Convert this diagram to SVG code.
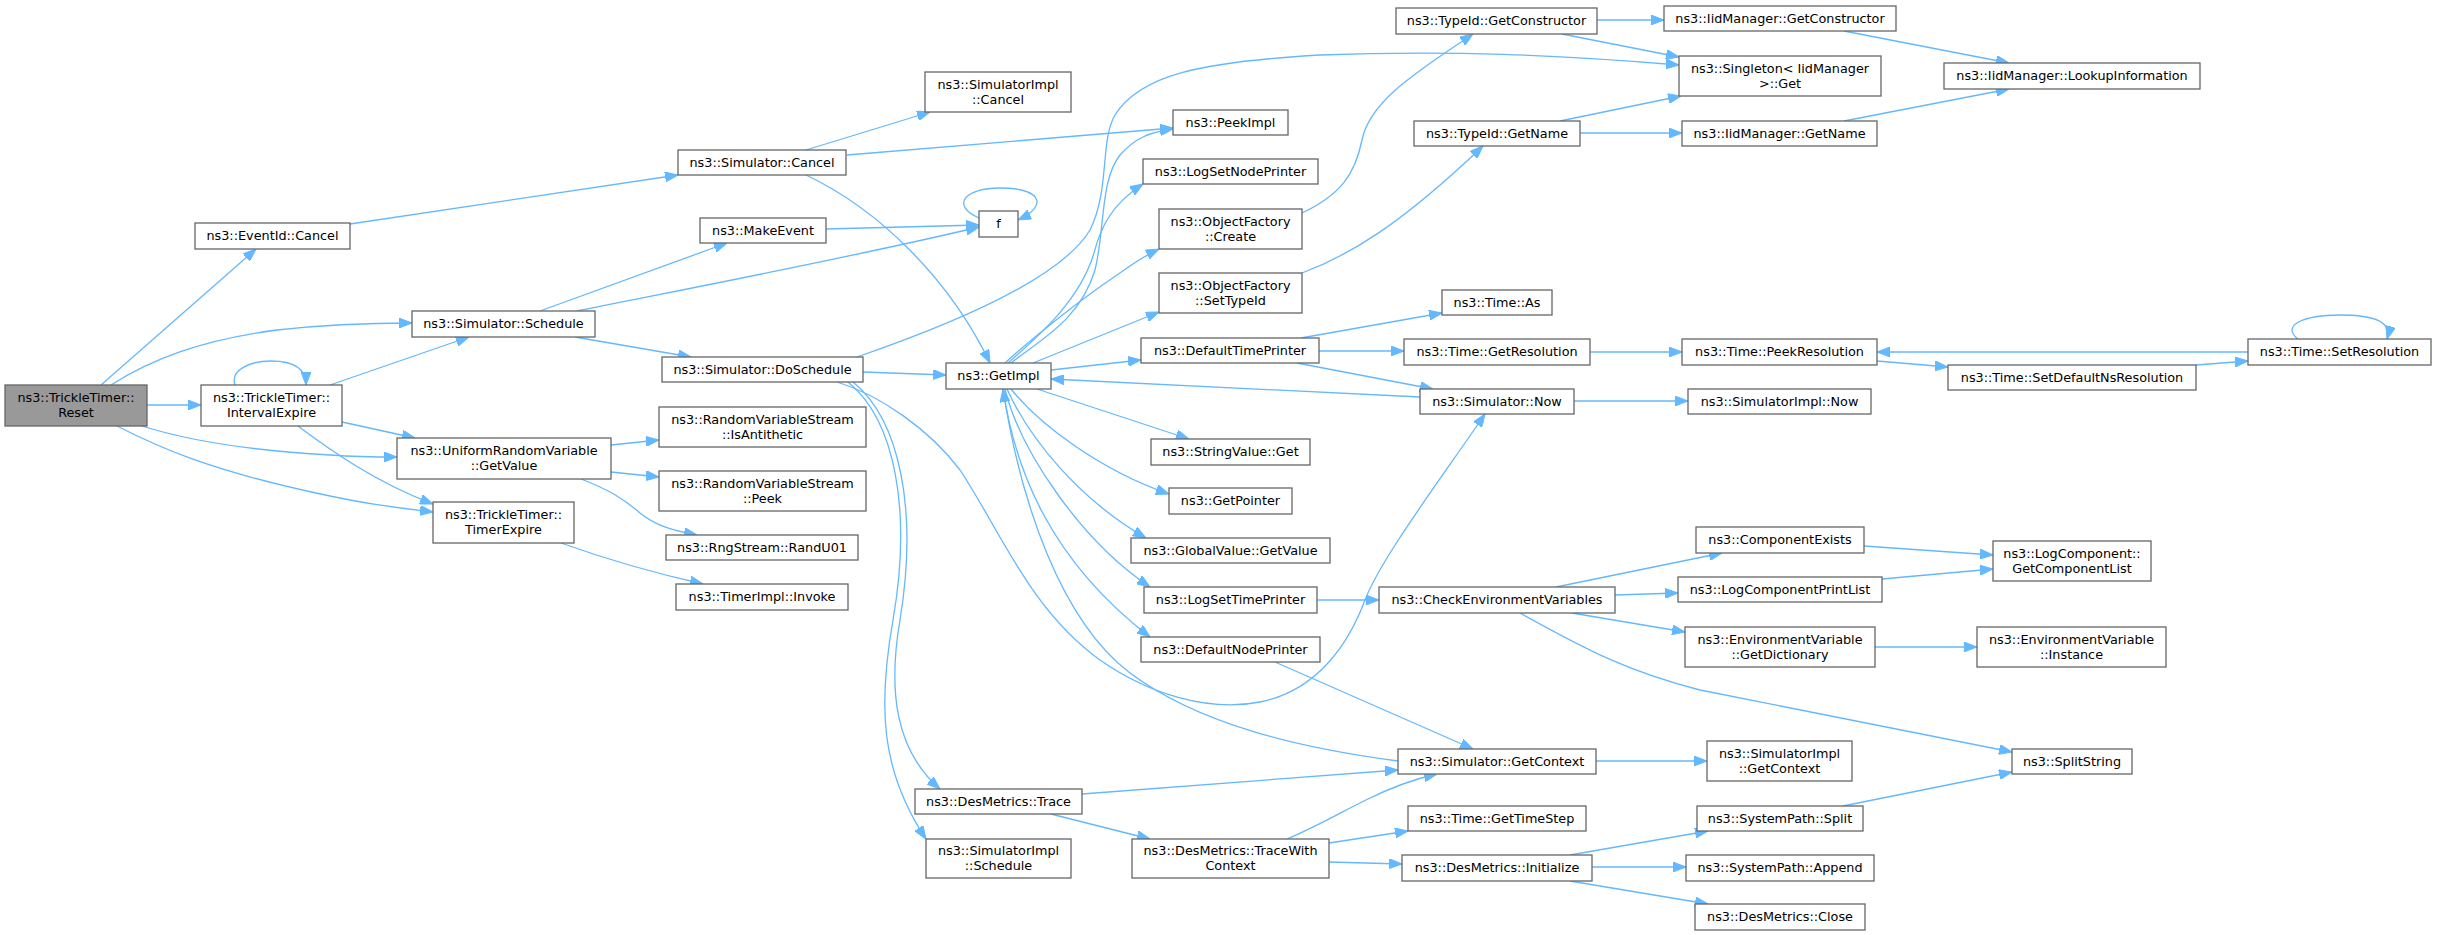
<svg xmlns="http://www.w3.org/2000/svg" width="2437" height="935" viewBox="0 0 2437 935">
<defs>
<marker id="arr" markerUnits="userSpaceOnUse" viewBox="0 0 13 10" markerWidth="13" markerHeight="10" refX="13" refY="5" orient="auto">
<path d="M0,0 L13,5 L0,10 z" fill="#63b8ff" stroke="#63b8ff" stroke-width="1"/>
</marker>
</defs>
<style>
.n rect{fill:#ffffff;stroke:#666666;stroke-width:1.3}
.n.root rect{fill:#999999}
.n text{font-family:"DejaVu Sans","Liberation Sans",sans-serif;font-size:12.8px;text-anchor:middle;fill:#000000}
#edges path{fill:none;stroke:#63b8ff;stroke-width:1.3;marker-end:url(#arr)}
</style>
<rect x="0" y="0" width="2437" height="935" fill="#ffffff"/>
<g id="edges">
<path d="M101,385 L256,249"/>
<path d="M111,385 C150,360 200,340 277,330 C330,324 370,323 412,323"/>
<path d="M147,405 L201,405"/>
<path d="M142,426 C180,438 240,450 330,455 C360,457 380,457 397,457"/>
<path d="M117,426 C160,448 210,470 316,493 C370,505 400,508 433,512"/>
<path d="M235,385 C230,370 250,361 271,361 C292,361 306,368 306,385"/>
<path d="M330,385 L469,337"/>
<path d="M342,422 L415,438"/>
<path d="M298,426 C330,450 375,482 433,504"/>
<path d="M350,224 L678,175"/>
<path d="M540,311 L727,243"/>
<path d="M577,311 C650,296 850,258 979,227"/>
<path d="M575,337 L691,357"/>
<path d="M806,150 L930,112"/>
<path d="M847,155 L1173,128"/>
<path d="M806,175 C880,210 950,280 990,363"/>
<path d="M826,229 L979,225"/>
<path d="M979,218 C950,205 965,188 1000,188 C1040,188 1050,205 1018,220"/>
<path d="M863,372 L946,375"/>
<path d="M857,357 C950,325 1060,280 1090,230 C1110,190 1100,140 1115,115 C1140,75 1200,62 1320,55 C1450,50 1560,55 1679,65"/>
<path d="M837,382 C880,395 930,430 960,470 C1000,530 1030,610 1100,660 C1150,695 1210,712 1260,702 C1320,690 1350,640 1365,600 C1380,560 1440,480 1485,414"/>
<path d="M853,382 C900,420 918,510 900,620 C888,690 895,750 940,789"/>
<path d="M848,382 C895,420 912,510 893,620 C878,705 880,770 926,839"/>
<path d="M1011,363 C1040,340 1080,320 1095,270 C1105,230 1100,180 1120,155 C1135,138 1150,132 1173,129"/>
<path d="M1008,363 C1040,335 1080,300 1094,253 C1100,230 1110,205 1143,184"/>
<path d="M1005,363 C1030,340 1080,300 1114,277 C1130,266 1140,258 1159,249"/>
<path d="M1033,363 L1159,312"/>
<path d="M1051,370 L1141,360"/>
<path d="M1420,397 L1051,379"/>
<path d="M1037,389 L1189,439"/>
<path d="M1011,389 C1040,425 1100,470 1169,494"/>
<path d="M1007,389 C1030,440 1080,500 1146,538"/>
<path d="M1005,389 C1020,450 1080,540 1150,587"/>
<path d="M1003,389 C1015,470 1050,560 1150,637"/>
<path d="M1398,761 C1300,748 1200,725 1130,673 C1060,620 1020,500 1003,389"/>
<path d="M1082,794 L1398,770"/>
<path d="M1051,814 L1150,839"/>
<path d="M1287,839 C1320,825 1345,810 1366,800 C1390,788 1410,780 1437,774"/>
<path d="M1275,662 L1473,749"/>
<path d="M1596,761 L1707,761"/>
<path d="M1329,843 L1408,831"/>
<path d="M1329,862 L1402,864"/>
<path d="M1570,855 L1708,831"/>
<path d="M1592,867 L1686,867"/>
<path d="M1570,881 L1708,904"/>
<path d="M1556,587 L1722,553"/>
<path d="M1615,595 L1678,593"/>
<path d="M1572,613 L1685,632"/>
<path d="M1520,613 C1590,652 1630,672 1700,690 L2012,752"/>
<path d="M1317,600 L1379,600"/>
<path d="M1864,546 L1993,555"/>
<path d="M1882,579 L1993,569"/>
<path d="M1875,647 L1977,647"/>
<path d="M1843,806 L2012,772"/>
<path d="M1302,213 C1340,195 1355,175 1362,140 C1370,100 1420,70 1473,34"/>
<path d="M1302,273 C1350,255 1400,225 1483,146"/>
<path d="M1597,20 L1664,20"/>
<path d="M1562,34 L1679,57"/>
<path d="M1560,121 L1681,96"/>
<path d="M1580,133 L1682,133"/>
<path d="M1844,31 L2009,63"/>
<path d="M1844,121 L2009,89"/>
<path d="M1301,338 L1442,313"/>
<path d="M1319,351 L1404,351"/>
<path d="M1297,363 L1433,389"/>
<path d="M1590,352 L1682,352"/>
<path d="M1574,401 L1688,401"/>
<path d="M1877,361 L1948,367"/>
<path d="M2196,365 L2248,361"/>
<path d="M2248,352 L1877,352"/>
<path d="M2298,339 C2280,325 2305,315 2340,315 C2375,315 2392,322 2387,339"/>
<path d="M611,445 L659,440"/>
<path d="M611,472 L659,477"/>
<path d="M581,479 C610,490 625,500 640,513 C655,525 670,530 697,535"/>
<path d="M561,543 C600,557 650,572 703,584"/>
</g>
<g id="n_reset" class="n root"><rect x="5" y="385" width="142" height="41"/><text x="76" y="402">ns3::TrickleTimer::</text><text x="76" y="417">Reset</text></g>
<g id="n_eventid_cancel" class="n"><rect x="195" y="223" width="155" height="26"/><text x="272.5" y="240">ns3::EventId::Cancel</text></g>
<g id="n_interval_expire" class="n"><rect x="201" y="385" width="141" height="41"/><text x="271.5" y="402">ns3::TrickleTimer::</text><text x="271.5" y="417">IntervalExpire</text></g>
<g id="n_sim_schedule" class="n"><rect x="412" y="311" width="183" height="26"/><text x="503.5" y="328">ns3::Simulator::Schedule</text></g>
<g id="n_urv_getvalue" class="n"><rect x="397" y="438" width="214" height="41"/><text x="504" y="455">ns3::UniformRandomVariable</text><text x="504" y="470">::GetValue</text></g>
<g id="n_timer_expire" class="n"><rect x="433" y="502" width="141" height="41"/><text x="503.5" y="519">ns3::TrickleTimer::</text><text x="503.5" y="534">TimerExpire</text></g>
<g id="n_sim_cancel" class="n"><rect x="678" y="150" width="168" height="25"/><text x="762" y="166.5">ns3::Simulator::Cancel</text></g>
<g id="n_make_event" class="n"><rect x="700" y="218" width="126" height="25"/><text x="763" y="234.5">ns3::MakeEvent</text></g>
<g id="n_do_schedule" class="n"><rect x="662" y="357" width="201" height="25"/><text x="762.5" y="373.5">ns3::Simulator::DoSchedule</text></g>
<g id="n_is_antithetic" class="n"><rect x="659" y="407" width="207" height="40"/><text x="762.5" y="423.5">ns3::RandomVariableStream</text><text x="762.5" y="438.5">::IsAntithetic</text></g>
<g id="n_rvs_peek" class="n"><rect x="659" y="471" width="207" height="40"/><text x="762.5" y="487.5">ns3::RandomVariableStream</text><text x="762.5" y="502.5">::Peek</text></g>
<g id="n_randu01" class="n"><rect x="666" y="535" width="192" height="25"/><text x="762" y="551.5">ns3::RngStream::RandU01</text></g>
<g id="n_timerimpl_invoke" class="n"><rect x="676" y="584" width="172" height="26"/><text x="762" y="601">ns3::TimerImpl::Invoke</text></g>
<g id="n_simimpl_cancel" class="n"><rect x="925" y="72" width="146" height="40"/><text x="998" y="88.5">ns3::SimulatorImpl</text><text x="998" y="103.5">::Cancel</text></g>
<g id="n_f" class="n"><rect x="979" y="211" width="39" height="26"/><text x="998.5" y="228">f</text></g>
<g id="n_getimpl" class="n"><rect x="946" y="363" width="105" height="26"/><text x="998.5" y="380">ns3::GetImpl</text></g>
<g id="n_des_trace" class="n"><rect x="915" y="789" width="167" height="25"/><text x="998.5" y="805.5">ns3::DesMetrics::Trace</text></g>
<g id="n_simimpl_schedule" class="n"><rect x="926" y="839" width="145" height="39"/><text x="998.5" y="855">ns3::SimulatorImpl</text><text x="998.5" y="870">::Schedule</text></g>
<g id="n_peekimpl" class="n"><rect x="1173" y="110" width="115" height="25"/><text x="1230.5" y="126.5">ns3::PeekImpl</text></g>
<g id="n_logsetnodeprinter" class="n"><rect x="1143" y="159" width="175" height="25"/><text x="1230.5" y="175.5">ns3::LogSetNodePrinter</text></g>
<g id="n_of_create" class="n"><rect x="1159" y="209" width="143" height="40"/><text x="1230.5" y="225.5">ns3::ObjectFactory</text><text x="1230.5" y="240.5">::Create</text></g>
<g id="n_of_settypeid" class="n"><rect x="1159" y="273" width="143" height="40"/><text x="1230.5" y="289.5">ns3::ObjectFactory</text><text x="1230.5" y="304.5">::SetTypeId</text></g>
<g id="n_defaulttimeprinter" class="n"><rect x="1141" y="338" width="178" height="25"/><text x="1230" y="354.5">ns3::DefaultTimePrinter</text></g>
<g id="n_stringvalue_get" class="n"><rect x="1151" y="439" width="159" height="26"/><text x="1230.5" y="456">ns3::StringValue::Get</text></g>
<g id="n_getpointer" class="n"><rect x="1169" y="488" width="123" height="26"/><text x="1230.5" y="505">ns3::GetPointer</text></g>
<g id="n_globalvalue_getvalue" class="n"><rect x="1131" y="538" width="199" height="25"/><text x="1230.5" y="554.5">ns3::GlobalValue::GetValue</text></g>
<g id="n_logsettimeprinter" class="n"><rect x="1144" y="587" width="173" height="26"/><text x="1230.5" y="604">ns3::LogSetTimePrinter</text></g>
<g id="n_defaultnodeprinter" class="n"><rect x="1141" y="637" width="179" height="25"/><text x="1230.5" y="653.5">ns3::DefaultNodePrinter</text></g>
<g id="n_des_tracewithcontext" class="n"><rect x="1132" y="839" width="197" height="39"/><text x="1230.5" y="855">ns3::DesMetrics::TraceWith</text><text x="1230.5" y="870">Context</text></g>
<g id="n_typeid_getconstructor" class="n"><rect x="1396" y="8" width="201" height="26"/><text x="1496.5" y="25">ns3::TypeId::GetConstructor</text></g>
<g id="n_typeid_getname" class="n"><rect x="1414" y="121" width="166" height="25"/><text x="1497" y="137.5">ns3::TypeId::GetName</text></g>
<g id="n_time_as" class="n"><rect x="1442" y="290" width="110" height="25"/><text x="1497" y="306.5">ns3::Time::As</text></g>
<g id="n_time_getresolution" class="n"><rect x="1404" y="339" width="186" height="26"/><text x="1497" y="356">ns3::Time::GetResolution</text></g>
<g id="n_sim_now" class="n"><rect x="1420" y="389" width="154" height="25"/><text x="1497" y="405.5">ns3::Simulator::Now</text></g>
<g id="n_checkenv" class="n"><rect x="1379" y="587" width="236" height="26"/><text x="1497" y="604">ns3::CheckEnvironmentVariables</text></g>
<g id="n_sim_getcontext" class="n"><rect x="1398" y="749" width="198" height="25"/><text x="1497" y="765.5">ns3::Simulator::GetContext</text></g>
<g id="n_time_gettimestep" class="n"><rect x="1408" y="806" width="178" height="25"/><text x="1497" y="822.5">ns3::Time::GetTimeStep</text></g>
<g id="n_des_initialize" class="n"><rect x="1402" y="855" width="190" height="26"/><text x="1497" y="872">ns3::DesMetrics::Initialize</text></g>
<g id="n_iid_getconstructor" class="n"><rect x="1664" y="6" width="232" height="25"/><text x="1780" y="22.5">ns3::IidManager::GetConstructor</text></g>
<g id="n_singleton_get" class="n"><rect x="1679" y="56" width="202" height="40"/><text x="1780" y="72.5">ns3::Singleton&lt; IidManager</text><text x="1780" y="87.5">&gt;::Get</text></g>
<g id="n_iid_getname" class="n"><rect x="1682" y="121" width="195" height="25"/><text x="1779.5" y="137.5">ns3::IidManager::GetName</text></g>
<g id="n_time_peekresolution" class="n"><rect x="1682" y="339" width="195" height="26"/><text x="1779.5" y="356">ns3::Time::PeekResolution</text></g>
<g id="n_simimpl_now" class="n"><rect x="1688" y="389" width="183" height="25"/><text x="1779.5" y="405.5">ns3::SimulatorImpl::Now</text></g>
<g id="n_componentexists" class="n"><rect x="1696" y="527" width="168" height="26"/><text x="1780" y="544">ns3::ComponentExists</text></g>
<g id="n_logcomponentprintlist" class="n"><rect x="1678" y="577" width="204" height="25"/><text x="1780" y="593.5">ns3::LogComponentPrintList</text></g>
<g id="n_env_getdictionary" class="n"><rect x="1685" y="627" width="190" height="40"/><text x="1780" y="643.5">ns3::EnvironmentVariable</text><text x="1780" y="658.5">::GetDictionary</text></g>
<g id="n_simimpl_getcontext" class="n"><rect x="1707" y="741" width="145" height="40"/><text x="1779.5" y="757.5">ns3::SimulatorImpl</text><text x="1779.5" y="772.5">::GetContext</text></g>
<g id="n_systempath_split" class="n"><rect x="1697" y="806" width="166" height="25"/><text x="1780" y="822.5">ns3::SystemPath::Split</text></g>
<g id="n_systempath_append" class="n"><rect x="1686" y="855" width="188" height="26"/><text x="1780" y="872">ns3::SystemPath::Append</text></g>
<g id="n_des_close" class="n"><rect x="1695" y="904" width="170" height="26"/><text x="1780" y="921">ns3::DesMetrics::Close</text></g>
<g id="n_iid_lookupinformation" class="n"><rect x="1944" y="63" width="256" height="26"/><text x="2072" y="80">ns3::IidManager::LookupInformation</text></g>
<g id="n_time_setdefaultnsresolution" class="n"><rect x="1948" y="365" width="248" height="25"/><text x="2072" y="381.5">ns3::Time::SetDefaultNsResolution</text></g>
<g id="n_logcomponent_getcomponentlist" class="n"><rect x="1993" y="541" width="158" height="40"/><text x="2072" y="557.5">ns3::LogComponent::</text><text x="2072" y="572.5">GetComponentList</text></g>
<g id="n_env_instance" class="n"><rect x="1977" y="627" width="189" height="40"/><text x="2071.5" y="643.5">ns3::EnvironmentVariable</text><text x="2071.5" y="658.5">::Instance</text></g>
<g id="n_splitstring" class="n"><rect x="2012" y="749" width="120" height="25"/><text x="2072" y="765.5">ns3::SplitString</text></g>
<g id="n_time_setresolution" class="n"><rect x="2248" y="339" width="183" height="26"/><text x="2339.5" y="356">ns3::Time::SetResolution</text></g>
</svg>
